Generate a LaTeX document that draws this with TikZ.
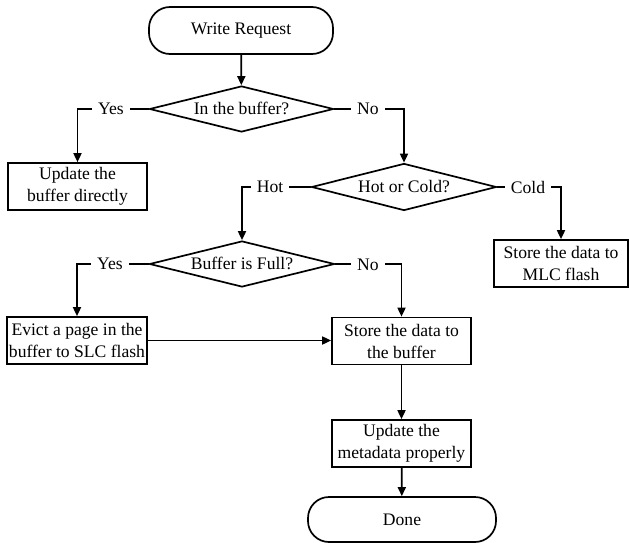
\documentclass[tikz,border=0pt]{standalone}
\usepackage{fontspec}
\setmainfont{Liberation Serif}
\usetikzlibrary{shapes.geometric,arrows.meta}
\newcommand\dtext[1]{\makebox[0pt]{\raisebox{-0.33em}[0pt][0pt]{#1}}}
\begin{document}
\begin{tikzpicture}[x=1pt,y=-1pt,
  every node/.style={font=\fontsize{17.6}{22}\selectfont},
  arr/.style={line width=1.7pt,-{Triangle[length=9pt,width=8pt]}},
  proc/.style={draw,line width=1.7pt,rectangle,inner sep=0pt,align=center,minimum height=47pt,minimum width=139pt},
  term/.style={draw,line width=1.7pt,rectangle,rounded corners=21pt,inner sep=0pt,align=center},
  dec/.style={draw,diamond,inner sep=0pt,line width=1.7pt,minimum width=184pt,minimum height=46pt},
  lbl/.style={fill=white,inner sep=0pt,inner xsep=6pt,minimum height=18pt}]
\useasboundingbox (0,0) rectangle (629,543);

\node[term,minimum width=184pt,minimum height=47pt] (wr) at (241,30.5) {Write Request};
\node[dec] (d1) at (241.5,109) {\dtext{In the buffer?}};
\node[proc] (upd) at (77.5,186.5) {Update the\\buffer directly};
\node[dec,minimum width=185pt,minimum height=47pt] (d2) at (404,187) {\dtext{Hot or Cold?}};
\node[dec,minimum width=185pt] (d3) at (242,264) {\dtext{Buffer is Full?}};
\node[proc,minimum width=134pt] (mlc) at (561,263.5) {Store the data to\\MLC flash};
\node[proc,minimum width=140pt] (ev) at (77,340.5) {Evict a page in the\\buffer to SLC flash};
\node[proc] (st) at (401.5,341) {Store the data to\\the buffer};
\node[proc] (md) at (401.5,443.5) {Update the\\metadata properly};
\node[term,minimum width=188pt,minimum height=45pt] (done) at (402,519.5) {Done};

\draw[arr] (wr) -- (d1);
\draw[arr] (d1.west) -- (upd.north |- d1.west) -- (upd.north);
\draw[arr] (d1.east) -- (d2.north |- d1.east) -- (d2.north);
\draw[arr] (d2.west) -- (d3.north |- d2.west) -- (d3.north);
\draw[arr] (d2.east) -- (mlc.north |- d2.east) -- (mlc.north);
\draw[arr] (d3.west) -- (ev.north |- d3.west) -- (ev.north);
\draw[arr] (d3.east) -- (st.north |- d3.east) -- (st.north);
\draw[arr] (ev.east) -- (ev.east -| st.west);
\draw[arr] (st) -- (md);
\draw[arr] (md) -- (done);

\node[lbl] (yes1) at (111,109) {Yes};
\node[lbl] (no1) at (368,109) {No};
\node[lbl] (hot) at (270,187) {Hot};
\node[lbl] (cold) at (528,187) {Cold};
\node[lbl] (yes2) at (110,264) {Yes};
\node[lbl] (no2) at (368,265) {No};
\end{tikzpicture}
\end{document}
